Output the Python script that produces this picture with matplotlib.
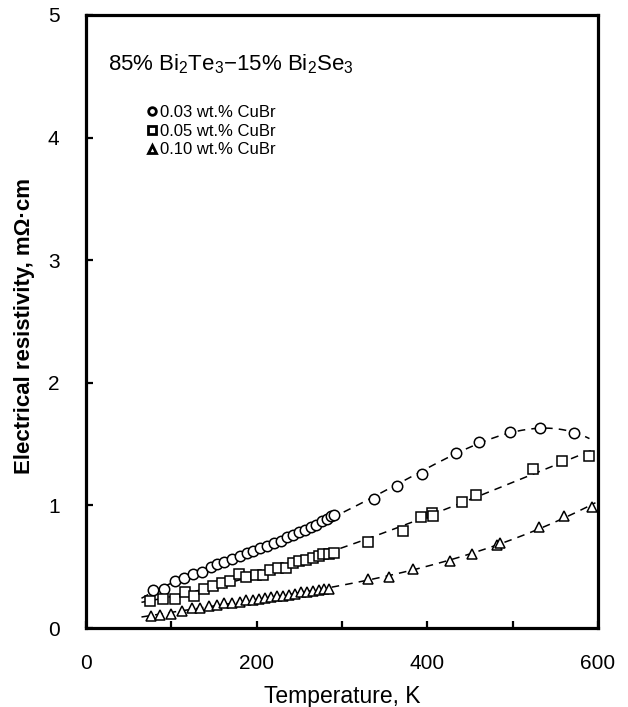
import numpy as np
import matplotlib
matplotlib.use("Agg")
import matplotlib.pyplot as plt
from matplotlib.lines import Line2D

plt.rcParams['font.family'] = ['Liberation Sans', 'DejaVu Sans']
plt.rcParams['mathtext.fontset'] = 'custom'
plt.rcParams['mathtext.rm'] = 'Liberation Sans'
plt.rcParams['mathtext.it'] = 'Liberation Sans:italic'
plt.rcParams['mathtext.bf'] = 'Liberation Sans:bold'

# 0.03 wt.% CuBr
t_003 = [78, 91, 104, 115, 125, 136, 146, 154, 162, 171, 181, 189, 196, 204,
         212, 220, 228, 236, 243, 250, 257, 264, 270, 276, 282, 287, 291,
         338, 365, 394, 434, 461, 497, 532, 572]
r_003 = [0.31, 0.32, 0.38, 0.41, 0.44, 0.46, 0.50, 0.52, 0.54, 0.56, 0.585, 0.61, 0.63, 0.65,
         0.67, 0.69, 0.71, 0.74, 0.76, 0.78, 0.80, 0.82, 0.84, 0.87, 0.89, 0.91, 0.925,
         1.05, 1.16, 1.26, 1.43, 1.52, 1.60, 1.63, 1.59]

# 0.05 wt.% CuBr
t_005 = [75, 90, 104, 116, 127, 138, 149, 159, 169, 179, 188, 199, 207, 216,
         225, 234, 242, 250, 258, 266, 273, 278, 285, 291,
         330, 371, 393, 406, 407, 441, 457, 524, 558, 589]
r_005 = [0.22, 0.235, 0.24, 0.295, 0.265, 0.315, 0.345, 0.37, 0.38, 0.44, 0.42, 0.435, 0.43, 0.475,
         0.49, 0.49, 0.53, 0.545, 0.555, 0.57, 0.585, 0.60, 0.605, 0.61,
         0.705, 0.795, 0.905, 0.94, 0.915, 1.025, 1.085, 1.30, 1.365, 1.40]

# 0.10 wt.% CuBr
t_010 = [76, 87, 100, 113, 124, 134, 144, 153, 162, 171, 180, 188, 196, 203,
         210, 217, 224, 231, 238, 245, 252, 259, 266, 273, 279, 285,
         330, 355, 383, 426, 452, 482, 485, 531, 560, 593]
r_010 = [0.10, 0.11, 0.115, 0.14, 0.16, 0.165, 0.18, 0.185, 0.20, 0.205, 0.215, 0.225, 0.23, 0.235,
         0.245, 0.25, 0.26, 0.265, 0.27, 0.28, 0.29, 0.295, 0.30, 0.31, 0.315, 0.32,
         0.40, 0.42, 0.48, 0.545, 0.605, 0.68, 0.69, 0.82, 0.91, 0.99]

labels = ['0.03 wt.% CuBr', '0.05 wt.% CuBr', '0.10 wt.% CuBr']
markers = ['o', 's', '^']
fit_deg = [4, 3, 3]
fit_end = [590, 597, 597]
fit_start = 65

fig = plt.figure(figsize=(6.28, 7.07), dpi=100)
ax = fig.add_axes([86 / 628, 1 - 628 / 707, 512 / 628, 613 / 707])

series = [(t_003, r_003), (t_005, r_005), (t_010, r_010)]
for (t, r), m, d, te in zip(series, markers, fit_deg, fit_end):
    # fitted curve (dashed)
    p = np.polyfit(t, r, d)
    tt = np.linspace(fit_start, te, 300)
    ax.plot(tt, np.polyval(p, tt), color='black', lw=1.1, ls=(0, (5, 4)), zorder=2)
    ax.plot(t, r, ls='none', marker=m, ms=7.5 if m == 'o' else 7, mfc='white',
            mec='black', mew=1.1, zorder=3)

ax.set_xlim(0, 600)
ax.set_ylim(0, 5)
ax.set_xticks(np.arange(0, 601, 100))
ax.set_xticklabels(['0', '', '200', '', '400', '', '600'])
ax.set_yticks(np.arange(0, 6, 1))
ax.tick_params(direction='in', length=5, width=1.6, labelsize=15, pad=19)
for s in ax.spines.values():
    s.set_linewidth(2.3)

ax.set_xlabel('Temperature, K', fontsize=16.5, labelpad=8)
ax.set_ylabel('Electrical resistivity, m\u03a9\u00b7cm', fontsize=16, fontweight='bold')
ax.yaxis.set_label_coords(-0.099, 0.492)

ax.text(0.043, 0.910, r'85% Bi$_2$Te$_3$$-$15% Bi$_2$Se$_3$', transform=ax.transAxes,
        fontsize=16, va='baseline', ha='left')

handles = [Line2D([], [], ls='none', marker=m, ms=5.5, mfc='white', mec='black', mew=2)
           for m in markers]
ax.legend(handles, labels, loc='upper left', bbox_to_anchor=(0.119, 0.853), frameon=False,
          fontsize=12, handlelength=0.6, handletextpad=0.2, labelspacing=0.22,
          borderpad=0, borderaxespad=0)

fig.savefig('out.png', dpi=100)
